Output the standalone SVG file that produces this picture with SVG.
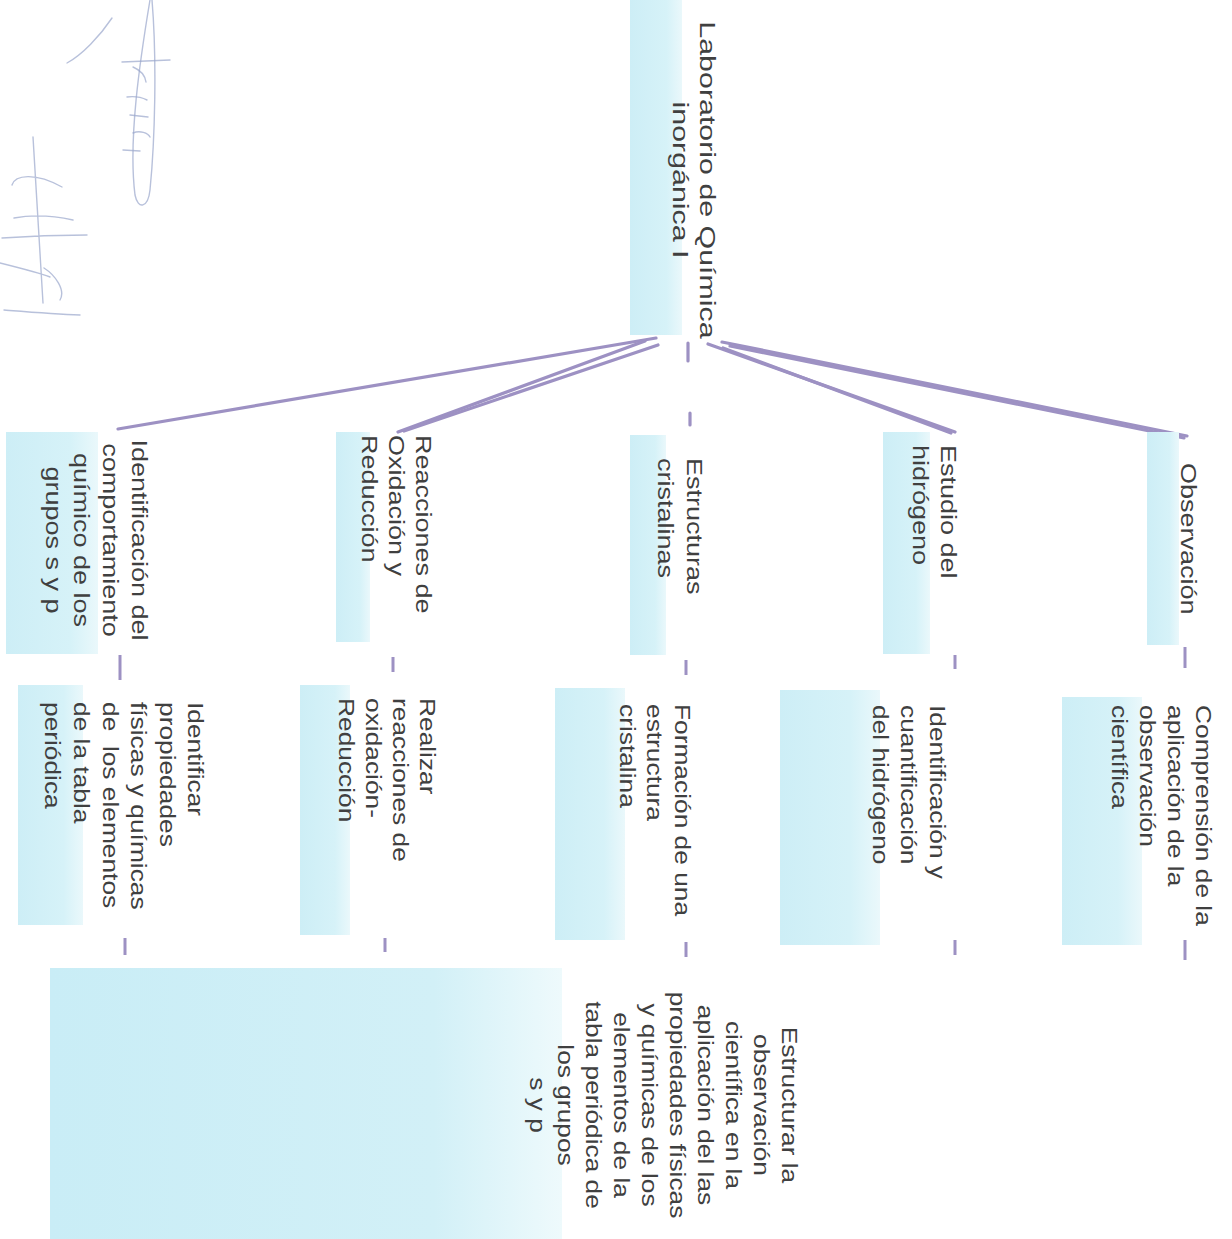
<svg xmlns="http://www.w3.org/2000/svg" width="1232" height="1239" viewBox="0 0 1232 1239">
<defs>
<linearGradient id="blue" x1="0" y1="0" x2="1" y2="0">
<stop offset="0" stop-color="#cdeef6"/>
<stop offset="0.7" stop-color="#d6f2f8"/>
<stop offset="1" stop-color="#eaf8fb"/>
</linearGradient>
<linearGradient id="blueBig" x1="0" y1="0" x2="1" y2="0">
<stop offset="0" stop-color="#c9edf6"/>
<stop offset="0.75" stop-color="#d2f0f7"/>
<stop offset="1" stop-color="#eefafc"/>
</linearGradient>
<style>
.box{fill:url(#blue);}
.t{font-family:"Liberation Sans",Arial,sans-serif;font-size:22.5px;fill:#404040;}
.m{text-anchor:middle;}
.c{stroke:#9d91c3;stroke-width:3.2;stroke-linecap:round;fill:none;}
.tick{stroke:#9d91c3;stroke-width:3;fill:none;}
.sig{stroke:#9aa6cc;stroke-width:1.4;fill:none;stroke-linecap:round;opacity:0.7;}
</style>
</defs>
<rect width="1232" height="1239" fill="#ffffff"/>

<g id="signature">
<path class="sig" d="M67,63 C82,55 100,36 112,18"/>
<path class="sig" d="M150,0 C140,60 128,140 135,195 C138,210 148,208 150,190 C155,140 157,60 152,0"/>
<path class="sig" d="M122,62 L170,60 M133,67 C140,70 145,75 146,82 M127,97 C135,96 143,98 147,100 M130,115 L148,117 M133,133 C140,130 148,133 150,137 M123,150 L140,151"/>
<path class="sig" d="M33,137 L43,303 M12,185 C15,175 35,172 62,187 M14,218 C35,214 55,216 73,220 M2,238 C30,236 60,235 87,235 M0,263 C20,268 40,273 50,277 M44,268 C55,275 66,290 60,300 M4,310 C30,312 55,314 80,315"/>
</g>

<g id="connectors">
<line class="c" x1="656" y1="338" x2="118" y2="429"/>
<line class="c" x1="645" y1="341" x2="398" y2="432"/>
<line class="c" x1="658" y1="345" x2="404" y2="431"/>
<line class="c" x1="688" y1="343" x2="688" y2="361"/>
<line class="c" x1="690" y1="413" x2="690" y2="425"/>
<line class="c" x1="708" y1="344" x2="955" y2="432"/>
<line class="c" x1="723" y1="348" x2="951" y2="433"/>
<line class="c" x1="722" y1="342" x2="1187" y2="436"/>
<line class="c" x1="730" y1="346" x2="1184" y2="438"/>
<line class="tick" x1="1185" y1="647" x2="1185" y2="668"/>
<line class="tick" x1="955" y1="655" x2="955" y2="669"/>
<line class="tick" x1="686" y1="660" x2="686" y2="675"/>
<line class="tick" x1="393" y1="657" x2="393" y2="672"/>
<line class="tick" x1="120" y1="655" x2="120" y2="680"/>
<line class="tick" x1="1185" y1="940" x2="1185" y2="960"/>
<line class="tick" x1="955" y1="940" x2="955" y2="955"/>
<line class="tick" x1="686" y1="942" x2="686" y2="957"/>
<line class="tick" x1="385" y1="938" x2="385" y2="952"/>
<line class="tick" x1="125" y1="938" x2="125" y2="955"/>
</g>

<g id="root">
<rect class="box" x="630" y="0" width="52" height="335"/>
<g transform="translate(700,180) rotate(90) scale(1.35,1)">
<text class="t m" x="0" y="0">Laboratorio de Química</text>
<text class="t m" x="0" y="27">inorgánica I</text>
</g>
</g>

<g id="observacion">
<rect class="box" x="1147" y="432" width="32" height="213"/>
<g transform="translate(1181,463) rotate(90) scale(1.2,1)">
<text class="t" x="0" y="0">Observación</text>
</g>
</g>

<g id="estudio-hidrogeno">
<rect class="box" x="883" y="432" width="47" height="222"/>
<g transform="translate(941,445) rotate(90) scale(1.2,1)">
<text class="t" x="0" y="0">Estudio del</text>
<text class="t" x="0" y="28">hidrógeno</text>
</g>
</g>

<g id="estructuras">
<rect class="box" x="630" y="435" width="36" height="220"/>
<g transform="translate(687,458) rotate(90) scale(1.2,1)">
<text class="t" x="0" y="0">Estructuras</text>
<text class="t" x="0" y="29">cristalinas</text>
</g>
</g>

<g id="reacciones">
<rect class="box" x="336" y="432" width="34" height="210"/>
<g transform="translate(416,435) rotate(90) scale(1.2,1)">
<text class="t" x="0" y="0">Reacciones de</text>
<text class="t" x="0" y="27">Oxidación y</text>
<text class="t" x="0" y="54">Reducción</text>
</g>
</g>

<g id="identificacion-grupos">
<rect class="box" x="6" y="432" width="92" height="222"/>
<g transform="translate(132,540) rotate(90) scale(1.2,1)">
<text class="t m" x="0" y="0">Identificación del</text>
<text class="t m" x="0" y="29">comportamiento</text>
<text class="t m" x="0" y="58">químico de los</text>
<text class="t m" x="0" y="86">grupos s y p</text>
</g>
</g>

<g id="comprension">
<rect class="box" x="1062" y="697" width="80" height="248"/>
<g transform="translate(1196,705) rotate(90) scale(1.17,1)">
<text class="t" x="0" y="0">Comprensión de la</text>
<text class="t" x="0" y="28">aplicación de la</text>
<text class="t" x="0" y="56">observación</text>
<text class="t" x="0" y="84">científica</text>
</g>
</g>

<g id="identificacion-hidrogeno">
<rect class="box" x="780" y="690" width="100" height="255"/>
<g transform="translate(930,705) rotate(90) scale(1.17,1)">
<text class="t" x="0" y="0">Identificación y</text>
<text class="t" x="0" y="29">cuantificación</text>
<text class="t" x="0" y="57">del hidrógeno</text>
</g>
</g>

<g id="formacion">
<rect class="box" x="555" y="688" width="70" height="252"/>
<g transform="translate(675,704) rotate(90) scale(1.17,1)">
<text class="t" x="0" y="0">Formación de una</text>
<text class="t" x="0" y="28">estructura</text>
<text class="t" x="0" y="55">cristalina</text>
</g>
</g>

<g id="realizar">
<rect class="box" x="300" y="685" width="50" height="250"/>
<g transform="translate(420,698) rotate(90) scale(1.17,1)">
<text class="t" x="0" y="0">Realizar</text>
<text class="t" x="0" y="27">reacciones de</text>
<text class="t" x="0" y="54">oxidación-</text>
<text class="t" x="0" y="81">Reducción</text>
</g>
</g>

<g id="identificar">
<rect class="box" x="18" y="685" width="65" height="240"/>
<g transform="translate(188,702) rotate(90) scale(1.17,1)">
<text class="t" x="0" y="0">Identificar</text>
<text class="t" x="0" y="28">propiedades</text>
<text class="t" x="0" y="57">físicas y químicas</text>
<text class="t" x="0" y="85" xml:space="preserve">de  los elementos</text>
<text class="t" x="0" y="114">de la tabla</text>
<text class="t" x="0" y="143">periódica</text>
</g>
</g>

<g id="estructurar">
<rect x="50" y="968" width="512" height="271" fill="url(#blueBig)"/>
<g transform="translate(782,1105) rotate(90) scale(1.17,1)">
<text class="t m" x="0" y="0">Estructurar la</text>
<text class="t m" x="0" y="28">observación</text>
<text class="t m" x="0" y="56">científica en la</text>
<text class="t m" x="0" y="84">aplicación del las</text>
<text class="t m" x="0" y="112">propiedades físicas</text>
<text class="t m" x="0" y="140">y químicas de los</text>
<text class="t m" x="0" y="168">elementos de la</text>
<text class="t m" x="0" y="196">tabla periódica de</text>
<text class="t m" x="0" y="224">los grupos</text>
<text class="t m" x="0" y="252">s y p</text>
</g>
</g>
</svg>
